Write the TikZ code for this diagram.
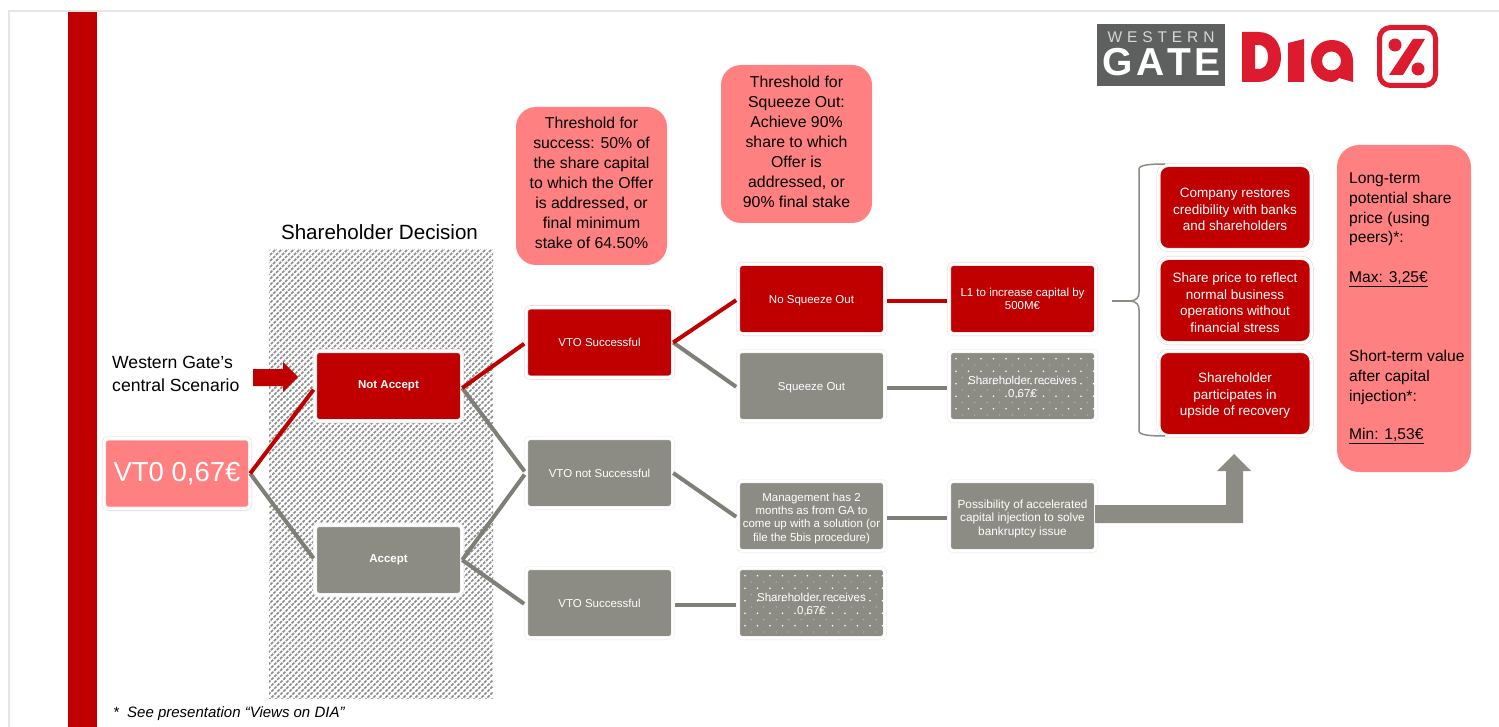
\documentclass[tikz,border=0pt]{standalone}
\usepackage{fontspec}
\setmainfont{Liberation Sans}
\usetikzlibrary{calc}
\definecolor{wgred}{HTML}{C00000}
\definecolor{wggray}{HTML}{8C8C84}
\definecolor{wgline}{HTML}{7F7F78}
\definecolor{wgpink}{HTML}{FF8080}
\definecolor{wghaloR}{HTML}{F6C4C4}
\definecolor{wghaloG}{HTML}{E6E6E6}
\definecolor{wglogo}{HTML}{5D605E}
\definecolor{wgdia}{HTML}{DC1C2E}
\newcommand{\fs}[2]{\fontsize{#1}{#2}\selectfont}
\newcommand{\up}[1]{\rule[-#1]{0pt}{#1}}
\newcommand{\dn}[1]{\rule{0pt}{#1}}
\tikzset{
  box/.style={rectangle,rounded corners=4pt,inner sep=0pt,align=center,text=white,
    minimum width=147pt,minimum height=70pt,double distance=3.2pt,line width=.4pt,
    font=\fs{11.5}{13.5}},
  redbox/.style={box,fill=wgred,draw=wghaloR,double=white},
  graybox/.style={box,fill=wggray,draw=wghaloG,double=white},
  dotbox/.style={graybox,path picture={
    \foreach \r in {0,...,5}{\foreach \c in {0,...,11}{
      \pgfmathsetmacro{\dx}{\c*12.5+7}
      \pgfmathsetmacro{\dy}{\r*12.5+7.7}
      \pgfmathsetmacro{\ex}{\dx+6.25}
      \pgfmathsetmacro{\ey}{\dy+6.25}
      \fill[white] ([xshift=\dx pt,yshift=-\dy pt]path picture bounding box.north west) circle (.85pt);
      \fill[white,opacity=.5] ([xshift=\ex pt,yshift=-\ey pt]path picture bounding box.north west) circle (.6pt);
    }}}},
  bigred/.style={redbox,rounded corners=10pt,minimum width=153pt,minimum height=85pt,font=\fs{13.5}{16.5}},
  note/.style={rectangle,fill=wgpink,rounded corners=20pt,inner sep=0pt,align=center,text=black,
    minimum width=151pt,minimum height=158pt,font=\fs{15.8}{20}},
  redlink/.style={draw=wgred,line width=4pt,shorten >=2pt},
  graylink/.style={draw=wgline,line width=4pt,shorten >=2pt},
  redbar/.style={draw=wgred,line width=4pt,shorten >=2pt,shorten <=2pt},
  graybar/.style={draw=wgline,line width=4pt,shorten >=2pt,shorten <=2pt},
  plain/.style={inner sep=0pt,align=left,text=black}
}
\begin{document}
\begin{tikzpicture}[x=1pt,y=-1pt]
\useasboundingbox (0,0) rectangle (1499,727);
% page frame and side bar
\draw[draw=wghaloG,line width=2pt] (9,727) -- (9,11) -- (1499,11);
\fill[wgred] (68,12) rectangle (97,727);
% hatched decision band
\begin{scope}
  \clip (269,250) rectangle (493,698);
  \fill[white] (269,250) rectangle (493,698);
  \foreach \i in {0,6,...,680}{
    \draw[draw=black!45,line width=1.7pt,dash pattern=on 3pt off 1.2pt] (269+\i,244) -- ++(-460,460);
  }
\end{scope}
\node[font=\fs{20.6}{24},inner sep=0pt] (title) at (379.5,232) {Shareholder Decision};
% left side
\node[plain,font=\fs{17.6}{23},anchor=west] (scen) at (112,374) {Western Gate’s\\central Scenario};
\fill[wgred] (253,369) -- (283,369) -- (283,362) -- (298,377) -- (283,392) -- (283,386) -- (253,386) -- cycle;
\node[box,fill=wgpink,draw=wghaloR,double=white,minimum width=146pt,font=\fs{27.5}{30}] (vt) at (177,473.5) {VT0 0,67€};
\node[redbox,font=\bfseries\fs{11.5}{13.5}] (na) at (388.5,386) {Not Accept};
\node[graybox,font=\bfseries\fs{11.5}{13.5}] (ac) at (388.5,560) {Accept};
% column 2
\node[redbox] (v1) at (599.5,342.5) {VTO Successful};
\node[graybox] (v2) at (599.5,473) {VTO not Successful};
\node[graybox] (v3) at (599.5,603) {VTO Successful};
% column 3
\node[redbox] (nso) at (811.5,299) {\dn{12pt}No Squeeze Out};
\node[graybox] (so) at (811.5,386) {\dn{12pt}Squeeze Out};
\node[graybox,font=\fs{11.5}{13.2}] (mg) at (811.5,516) {\dn{13pt}Management has 2\\months as from GA to\\come up with a solution (or\\file the 5bis procedure)};
\node[dotbox] (sh3) at (811.5,603) {\dn{11pt}Shareholder receives\\0,67€};
% column 4
\node[redbox] (l1) at (1022.5,299) {L1 to increase capital by\\500M€};
\node[dotbox] (sh2) at (1022.5,386) {\dn{11pt}Shareholder receives\\0,67€};
\node[graybox,font=\fs{11.8}{13.3}] (po) at (1022.5,516) {\dn{14pt}Possibility of accelerated\\capital injection to solve\\bankruptcy issue};
% outcomes
\node[bigred] (o1) at (1235,207.5) {\dn{14pt}Company restores\\credibility with banks\\and shareholders};
\node[bigred] (o2) at (1235,300.5) {\dn{14pt}Share price to reflect\\normal business\\operations without\\financial stress};
\node[bigred] (o3) at (1235,393.5) {\dn{14pt}Shareholder\\participates in\\upside of recovery};
% threshold notes
\node[note] (t1) at (591.5,186) {Threshold for\\success: 50\% of\\the share capital\\to which the Offer\\is addressed, or\\final minimum\\stake of 64.50\%\up{7pt}};
\node[note] (t2) at (796.5,144) {Threshold for\\Squeeze Out:\\Achieve 90\%\\share to which\\Offer is\\addressed, or\\90\% final stake\up{3.5pt}};
% value box
\node[rectangle,fill=wgpink,rounded corners=22pt,minimum width=134pt,minimum height=327pt,inner sep=0pt] (val) at (1404,308.5) {};
\node[plain,anchor=north west,font=\fs{15.6}{19.6}] (valt) at (1349,173) {Long-term\\potential share\\price (using\\peers)*:\\[20pt]\underline{Max: 3,25€}\\[60pt]Short-term value\\after capital\\injection*:\\[19pt]\underline{Min: 1,53€}};
% connectors
\draw[graylink] (vt.east) -- (ac.west);
\draw[redlink] (vt.east) -- ([yshift=-2pt]na.west);
\draw[graylink] ([yshift=-2pt]na.east) -- (v2.west);
\draw[redlink] ([yshift=-2pt]na.east) -- (v1.west);
\draw[graylink] (ac.east) -- (v2.west);
\draw[graylink] (ac.east) -- ([yshift=-2pt]v3.west);
\draw[graylink] (v1.east) -- ([yshift=-2pt]so.west);
\draw[redlink] (v1.east) -- (nso.west);
\draw[graylink] (v2.east) -- ([yshift=-2pt]mg.west);
\draw[redbar] ([yshift=-2pt]nso.east) -- ([yshift=-2pt]l1.west);
\draw[graybar] ([yshift=-2pt]so.east) -- ([yshift=-2pt]sh2.west);
\draw[graybar] ([yshift=-2pt]mg.east) -- ([yshift=-2pt]po.west);
\draw[graybar] ([yshift=-2pt]v3.east) -- ([yshift=-2pt]sh3.west);
% brace
\draw[draw=wggray,line width=1.5pt,line join=round] (1165,164) .. controls (1150,164) and (1139,165) .. (1139,169) -- (1139,292) .. controls (1139,297) and (1137,300) .. (1131,301) .. controls (1137,302) and (1139,305) .. (1139,310) -- (1139,431) .. controls (1139,435) and (1150,436) .. (1165,436);
\draw[draw=wggray,line width=2.6pt] (1112,301) -- (1131,301);
% big arrow
\fill[wggray] (1095,505) -- (1226,505) -- (1226,471) -- (1217,471) -- (1234,454) -- (1251,471) -- (1243,471) -- (1243,523) -- (1095,523) -- cycle;
% logos
\fill[wglogo] (1097,24) rectangle (1225,86);
\node[inner sep=0pt,text=white!75!wglogo,font=\fs{15.5}{18}] (wg1) at (1161,37) {W\hspace{4.9pt}E\hspace{4.9pt}S\hspace{4.9pt}T\hspace{4.9pt}E\hspace{4.9pt}R\hspace{4.9pt}N};
\node[inner sep=0pt,text=white,font=\bfseries\fs{39}{42}] (wg2) at (1161.5,62.5) {G\hspace{3pt}A\hspace{3pt}T\hspace{3pt}E};
\fill[wgdia,even odd rule] (1242,32) -- (1258,32) .. controls (1273,32) and (1281,43) .. (1281,57) .. controls (1281,71) and (1273,82) .. (1258,82) -- (1242,82) -- cycle
  (1255,45) -- (1255,69) -- (1258,69) .. controls (1265,69) and (1268,64) .. (1268,57) .. controls (1268,50) and (1265,45) .. (1258,45) -- cycle;
\fill[wgdia] (1288,43) -- (1304,39) -- (1304,82) -- (1288,82) -- cycle;
\fill[wgdia,even odd rule] (1332,40) .. controls (1344,40) and (1353,49) .. (1353,61) -- (1353,82) -- (1339,78) .. controls (1337,81) and (1334,82) .. (1332,82) .. controls (1320,82) and (1311,73) .. (1311,61) .. controls (1311,49) and (1320,40) .. (1332,40) -- cycle
  (1341,61) arc (0:360:9.5pt);
\draw[draw=wgdia,line width=5pt,rounded corners=11pt] (1379.5,27.5) rectangle (1435.5,85.5);
\fill[wgdia] (1395,45) circle (6.5pt) (1418,69) circle (6.5pt);
\fill[wgdia] (1413,39) -- (1425,39) -- (1403,75) -- (1389,75) -- cycle;
% footnote
\node[plain,anchor=west,font=\itshape\fs{15}{17}] (fn) at (113,714) {*\hspace{4pt} See presentation “Views on DIA”};
\end{tikzpicture}
\end{document}
